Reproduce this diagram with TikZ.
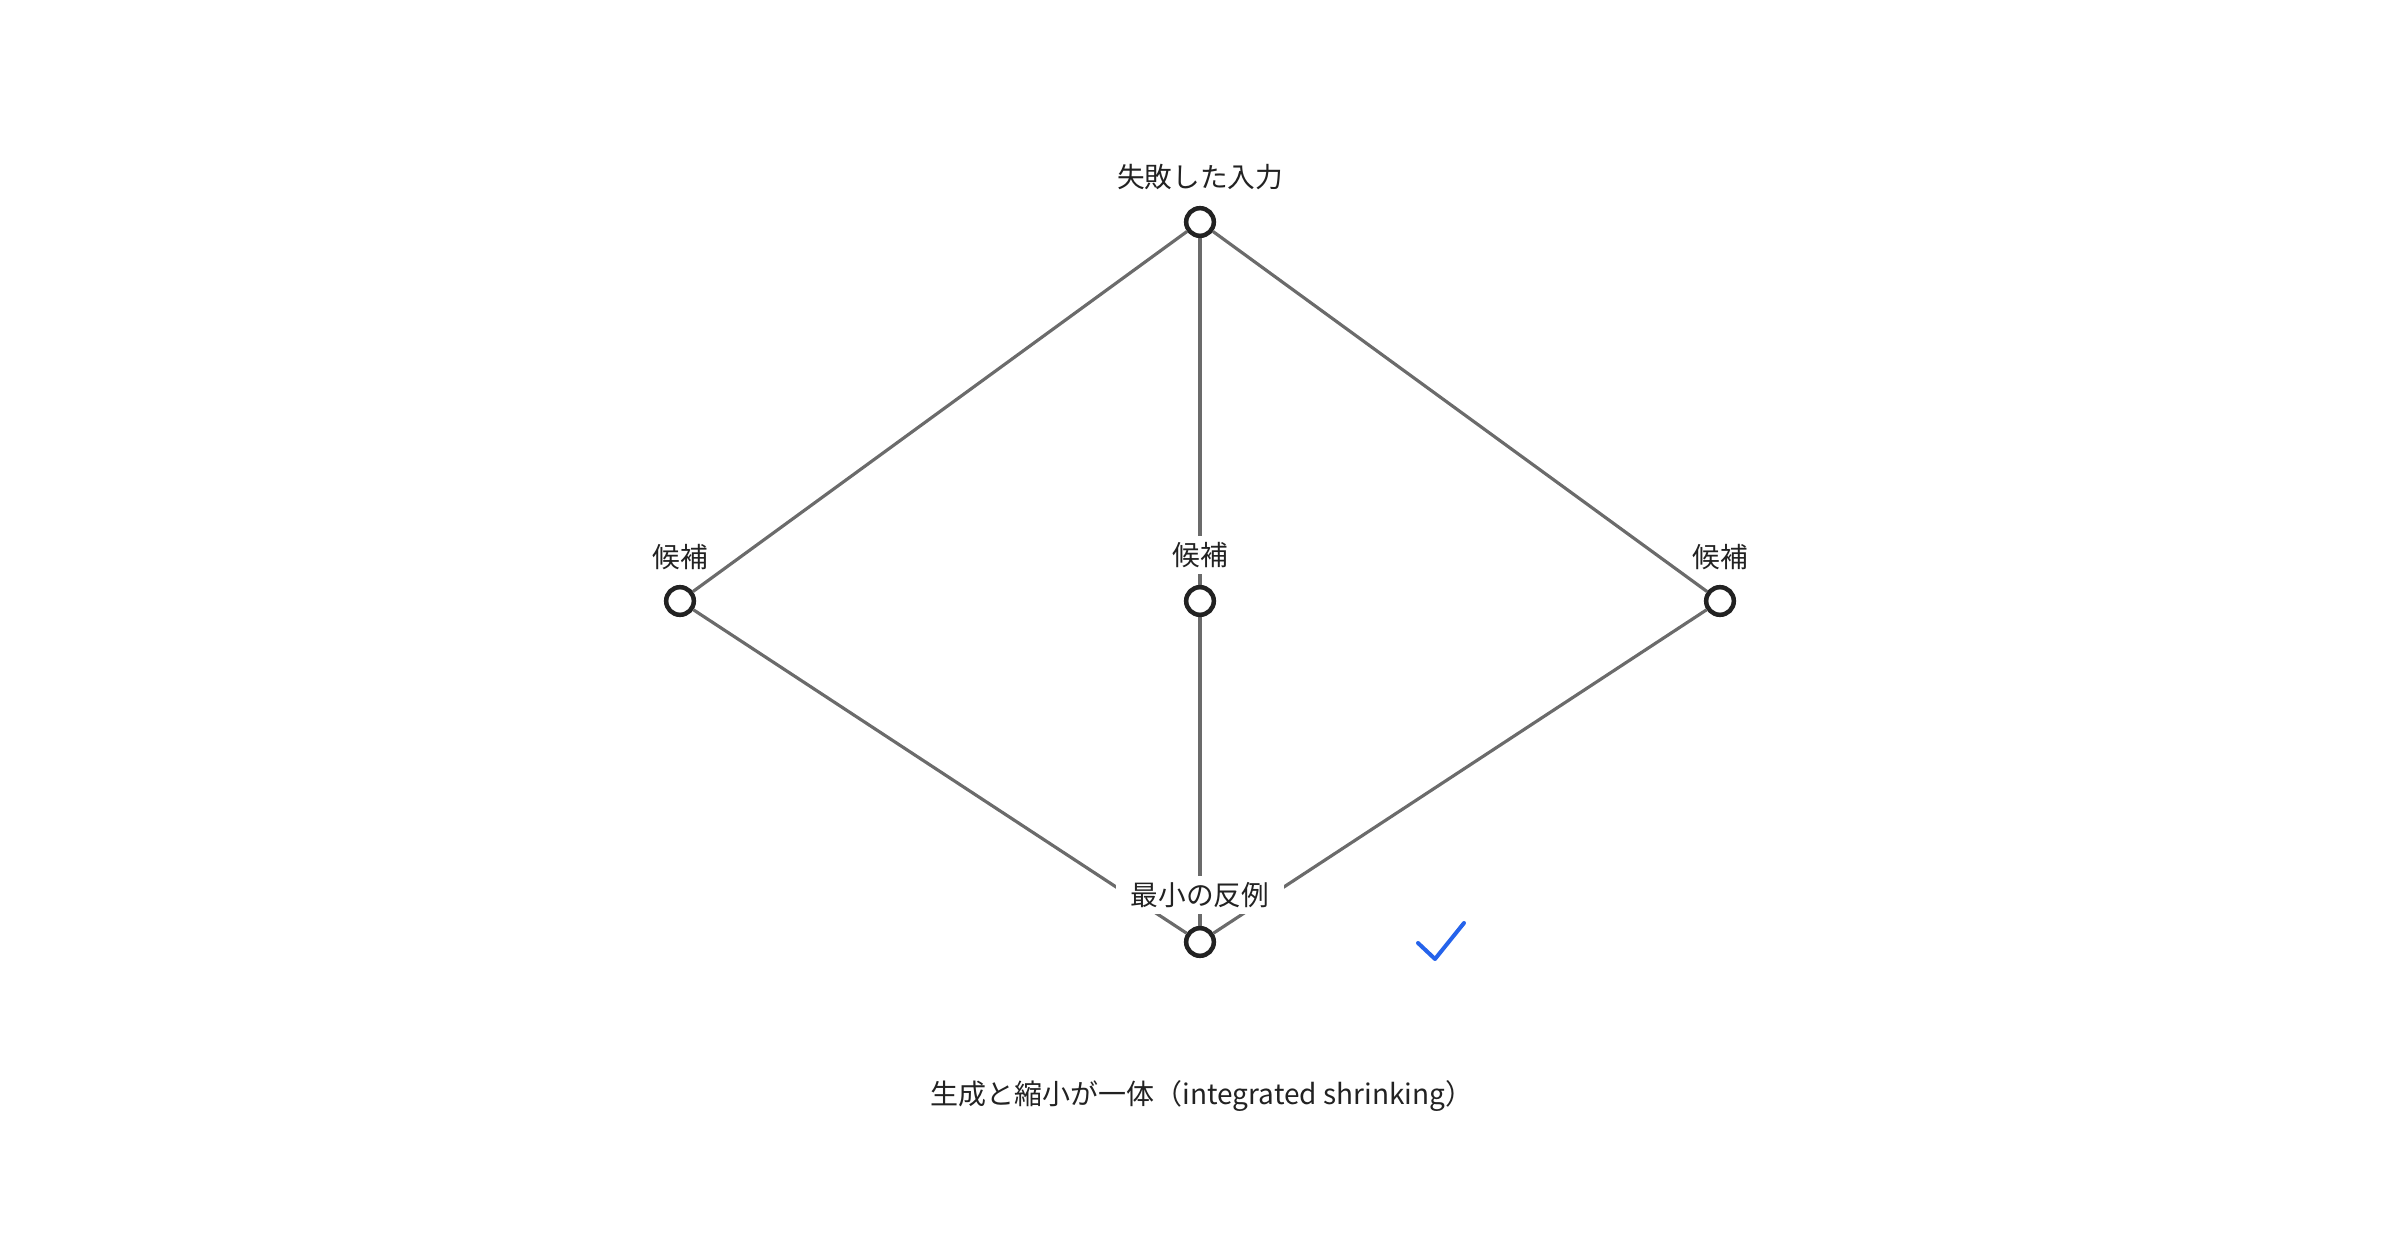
\documentclass[tikz,border=0pt]{standalone}
\usepackage{fontspec}
\usetikzlibrary{backgrounds}
\newfontfamily\jpfont{Noto Sans CJK JP}
\definecolor{edgegray}{HTML}{6B6B6B}
\definecolor{dotink}{HTML}{222222}
\definecolor{checkblue}{HTML}{2563EB}

\begin{document}
\begin{tikzpicture}[
  x=0.3pt,y=-0.3pt,
  every node/.style={font=\jpfont\fontsize{8.3pt}{10pt}\selectfont,text=dotink},
  dot/.style={circle,draw=dotink,line width=1.35pt,fill=white,
              minimum size=8.3pt,inner sep=0pt},
  lbl/.style={fill=white,inner xsep=1pt,inner ysep=2pt},
  widelbl/.style={lbl,inner xsep=4.5pt},
  link/.style={draw=edgegray,line width=0.95pt}
]
\useasboundingbox (0,0) rectangle (2400,1260);
\node[dot] (fail) at (1200,222) {};
\node[dot] (candl) at (680,601) {};
\node[dot] (candm) at (1200,601) {};
\node[dot] (candr) at (1720,601) {};
\node[dot] (minimal) at (1200,942) {};
\node[lbl] (faill) at (1200,177) {失敗した入力};
\node[lbl] (candll) at (680,557) {候補};
\node[lbl] (candml) at (1200,555) {候補};
\node[lbl] (candrl) at (1720,557) {候補};
\node[widelbl] (minimall) at (1200,895) {最小の反例};
\begin{scope}[on background layer]
\draw[link] (fail) -- (candl);
\draw[link] (fail) -- (candm);
\draw[link] (fail) -- (candr);
\draw[link] (candl) -- (minimal);
\draw[link] (candm) -- (minimal);
\draw[link] (candr) -- (minimal);
\end{scope}
% check mark
\draw[checkblue,line width=1.2pt,line cap=round,line join=round]
  (1418,943) -- (1435,959) -- (1464,923);
\node (caption) at (1202,1096) {\fontsize{8.4pt}{10pt}\selectfont 生成と縮小が一体（integrated shrinking）};
\end{tikzpicture}
\end{document}
